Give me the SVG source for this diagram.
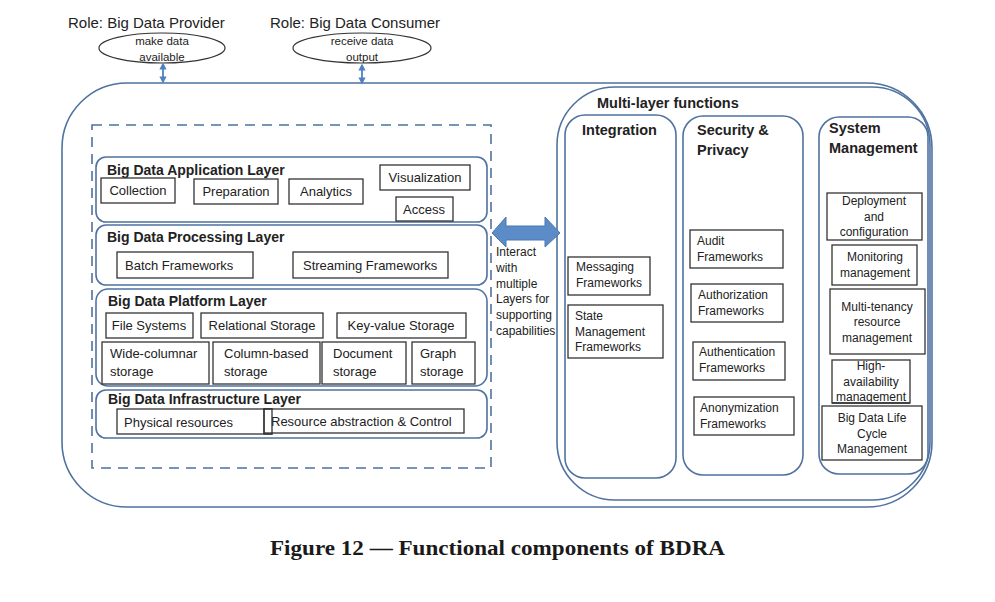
<svg xmlns="http://www.w3.org/2000/svg" width="995" height="602" viewBox="0 0 995 602">
<defs>
<style>
text{font-family:"Liberation Sans",Arial,sans-serif;fill:#222;}
.role{font-size:15px;}
.ell{font-size:11.5px;text-anchor:middle;}
.lt{font-size:14px;font-weight:bold;}
.ht{font-size:14.5px;font-weight:bold;}
.bt{font-size:13px;}
.mid{text-anchor:middle;}
.st{font-size:12px;}
.blue{fill:none;stroke:#4f72a0;stroke-width:1.6;}
.box{fill:#fff;stroke:#333;stroke-width:1.3;}
.cap{font-family:"Liberation Serif","DejaVu Serif",serif;font-size:22px;font-weight:bold;fill:#1a1a1a;}
</style>
<marker id="ah" viewBox="0 0 6 6" refX="3" refY="3" markerWidth="4" markerHeight="4" orient="auto-start-reverse">
<path d="M0,0 L6,3 L0,6 Z" fill="#4f81bd"/>
</marker>
</defs>
<rect width="995" height="602" fill="#fff"/>

<g id="outer"><rect x="62" y="83" width="870" height="424" rx="65" ry="65" class="blue"/></g>

<g id="provider">
<text class="role" x="68" y="28">Role: Big Data Provider</text>
<ellipse cx="162" cy="48" rx="63" ry="15" fill="#fff" stroke="#333" stroke-width="1.2"/>
<text class="ell" x="162" y="45">make data</text>
<text class="ell" x="162" y="61">available</text>
</g>
<g id="consumer">
<text class="role" x="270" y="28">Role: Big Data Consumer</text>
<ellipse cx="362" cy="48" rx="69" ry="15" fill="#fff" stroke="#333" stroke-width="1.2"/>
<text class="ell" x="362" y="45">receive data</text>
<text class="ell" x="362" y="61">output</text>
</g>

<g id="core">
<rect x="92" y="125" width="399" height="343" fill="none" stroke="#4f72a0" stroke-width="1.6" stroke-dasharray="10,7"/>
</g>

<g id="app-layer">
<rect x="96" y="157" width="391" height="65" rx="10" class="blue"/>
<text class="lt" x="107" y="175">Big Data Application Layer</text>
<rect x="101" y="178" width="74" height="25" class="box"/><text class="bt mid" x="138" y="195">Collection</text>
<rect x="194" y="179" width="84" height="25" class="box"/><text class="bt mid" x="236" y="196">Preparation</text>
<rect x="289" y="179" width="74" height="25" class="box"/><text class="bt mid" x="326" y="196">Analytics</text>
<rect x="380" y="165" width="90" height="25" class="box"/><text class="bt mid" x="425" y="182">Visualization</text>
<rect x="396" y="197" width="57" height="24" class="box"/><text class="bt mid" x="424" y="214">Access</text>
</g>

<g id="proc-layer">
<rect x="96" y="225" width="391" height="60" rx="10" class="blue"/>
<text class="lt" x="107" y="242">Big Data Processing Layer</text>
<rect x="117" y="252" width="136" height="26" class="box"/><text class="bt" x="125" y="270">Batch Frameworks</text>
<rect x="293" y="252" width="155" height="26" class="box"/><text class="bt" x="303" y="270">Streaming Frameworks</text>
</g>

<g id="plat-layer">
<rect x="96" y="289" width="391" height="97" rx="12" class="blue"/>
<text class="lt" x="108" y="306">Big Data Platform Layer</text>
<rect x="106" y="313" width="87" height="25" class="box"/><text class="bt mid" x="149" y="330">File Systems</text>
<rect x="201" y="313" width="122" height="25" class="box"/><text class="bt mid" x="262" y="330">Relational Storage</text>
<rect x="337" y="313" width="129" height="25" class="box"/><text class="bt mid" x="401" y="330">Key-value Storage</text>
<rect x="102" y="342" width="107" height="42" class="box"/><text class="bt" x="110" y="358">Wide-columnar</text><text class="bt" x="110" y="376">storage</text>
<rect x="213" y="342" width="107" height="42" class="box"/><text class="bt" x="224" y="358">Column-based</text><text class="bt" x="224" y="376">storage</text>
<rect x="322" y="342" width="84" height="42" class="box"/><text class="bt" x="333" y="358">Document</text><text class="bt" x="333" y="376">storage</text>
<rect x="412" y="342" width="63" height="42" class="box"/><text class="bt" x="420" y="358">Graph</text><text class="bt" x="420" y="376">storage</text>
</g>

<g id="infra-layer">
<rect x="96" y="390" width="391" height="48" rx="10" class="blue"/>
<text class="lt" x="108" y="404">Big Data Infrastructure Layer</text>
<rect x="117" y="409" width="155" height="25" class="box"/><text class="bt" x="124" y="427">Physical resources</text>
<rect x="264" y="409" width="200" height="24" class="box"/><text class="bt" x="271" y="426">Resource abstraction &amp; Control</text>
<rect x="264" y="409" width="8" height="25" fill="none" stroke="#333" stroke-width="1.3"/>
</g>

<g id="multi-layer">
<rect x="557" y="87" width="373" height="413" rx="58" ry="58" class="blue"/>
<text class="ht" x="597" y="108">Multi-layer functions</text>
</g>

<g id="integration">
<rect x="565" y="115" width="111" height="363" rx="20" class="blue"/>
<text class="ht" x="582" y="135">Integration</text>
<rect x="568" y="257" width="82" height="38" class="box"/><text class="st" x="576" y="271">Messaging</text><text class="st" x="576" y="287">Frameworks</text>
<rect x="568" y="305" width="95" height="53" class="box"/><text class="st" x="575" y="320">State</text><text class="st" x="575" y="336">Management</text><text class="st" x="575" y="351">Frameworks</text>
</g>

<g id="security">
<rect x="683" y="116" width="120" height="359" rx="20" class="blue"/>
<text class="ht" x="697" y="135">Security &amp;</text><text class="ht" x="697" y="155">Privacy</text>
<rect x="690" y="230" width="93" height="38" class="box"/><text class="st" x="697" y="245">Audit</text><text class="st" x="697" y="261">Frameworks</text>
<rect x="691" y="284" width="92" height="38" class="box"/><text class="st" x="698" y="299">Authorization</text><text class="st" x="698" y="315">Frameworks</text>
<rect x="693" y="342" width="92" height="38" class="box"/><text class="st" x="699" y="356">Authentication</text><text class="st" x="699" y="372">Frameworks</text>
<rect x="694" y="397" width="100" height="38" class="box"/><text class="st" x="700" y="412">Anonymization</text><text class="st" x="700" y="428">Frameworks</text>
</g>

<g id="sysmgmt">
<rect x="819" y="117" width="109" height="357" rx="20" class="blue"/>
<text class="ht" x="829" y="133">System</text><text class="ht" x="829" y="153">Management</text>
<rect x="827" y="193" width="95" height="47" class="box"/><text class="st mid" x="874" y="205">Deployment</text><text class="st mid" x="874" y="221">and</text><text class="st mid" x="874" y="236">configuration</text>
<rect x="832" y="245" width="85" height="40" class="box"/><text class="st mid" x="875" y="261">Monitoring</text><text class="st mid" x="875" y="277">management</text>
<rect x="830" y="289" width="95" height="65" class="box"/><text class="st mid" x="877" y="311">Multi-tenancy</text><text class="st mid" x="877" y="326">resource</text><text class="st mid" x="877" y="342">management</text>
<rect x="832" y="360" width="78" height="43" class="box"/><text class="st mid" x="871" y="370">High-</text><text class="st mid" x="871" y="386">availability</text><text class="st mid" x="871" y="401">management</text>
<line x1="832" y1="403" x2="910" y2="403" stroke="#333" stroke-width="1.3"/>
<rect x="822" y="406" width="100" height="54" class="box"/><text class="st mid" x="872" y="422">Big Data Life</text><text class="st mid" x="872" y="438">Cycle</text><text class="st mid" x="872" y="453">Management</text>
</g>

<g id="connectors">
<line x1="163" y1="66" x2="163" y2="80" stroke="#4f81bd" stroke-width="1.8" marker-start="url(#ah)" marker-end="url(#ah)"/>
<line x1="362" y1="67" x2="362" y2="81" stroke="#4f81bd" stroke-width="1.8" marker-start="url(#ah)" marker-end="url(#ah)"/>
<path d="M492,233 L506,217 L506,226 L545,226 L545,217 L560,233 L545,247 L545,240 L506,240 L506,247 Z" fill="#5b8cc8" stroke="#4a78b0" stroke-width="1"/>
<text class="st" x="496" y="256">Interact</text>
<text class="st" x="496" y="272">with</text>
<text class="st" x="496" y="288">multiple</text>
<text class="st" x="496" y="303">Layers for</text>
<text class="st" x="496" y="319">supporting</text>
<text class="st" x="496" y="335">capabilities</text>
</g>

<text class="cap" x="270" y="555" textLength="455" lengthAdjust="spacingAndGlyphs">Figure 12 — Functional components of BDRA</text>
</svg>
